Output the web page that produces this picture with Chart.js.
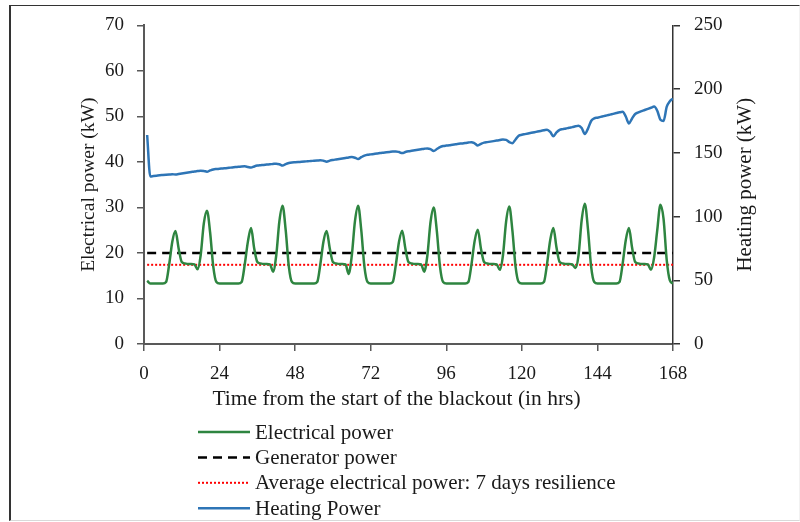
<!DOCTYPE html>
<html>
<head>
<meta charset="utf-8">
<script src="https://cdn.jsdelivr.net/npm/chart.js@4/dist/chart.umd.min.js"></script>
<style>
  body { margin: 0; background: #fff; }
  #frame { position: absolute; left: 9px; top: 5px; width: 788px; height: 514px;
           border-left: 2px solid #333; border-top: 1px solid #333;
           border-bottom: 1px solid #d9d9d9; border-right: 1px solid #f2f2f2; }
  #wrap { position: absolute; left: 0; top: 0; width: 800px; height: 522px; }
</style>
</head>
<body>
<div id="frame"></div>
<div id="wrap"><canvas id="myChart"></canvas></div>
<script>

// hours 1..168 after the blackout
var hours = [];
for (var h = 1; h <= 168; h++) hours.push(h);

var xTicks = [0, 24, 48, 72, 96, 120, 144, 168];

// electrical load (kW), read hour by hour off the figure
var electricalPower = [
  13.9,13.3,13.3,13.3,13.3,13.3,13.6,17.5,22.5,24.8,21.0,18.0,17.7,17.6,17.6,17.5,16.4,19.5,26.5,29.3,24.5,17.0,13.6,
  13.3,13.3,13.3,13.3,13.3,13.3,13.3,13.6,17.5,22.5,25.5,21.0,18.0,17.7,17.6,17.6,17.5,15.9,19.5,27.0,30.4,25.0,17.0,13.6,
  13.3,13.3,13.3,13.3,13.3,13.3,13.3,13.6,17.5,22.5,24.8,21.0,18.0,17.7,17.6,17.6,17.5,15.4,19.5,27.0,30.4,25.0,17.0,13.6,
  13.3,13.3,13.3,13.3,13.3,13.3,13.3,13.6,17.5,22.5,24.9,21.0,18.0,17.7,17.6,17.6,17.5,15.9,19.5,26.8,30.0,24.8,17.0,13.6,
  13.3,13.3,13.3,13.3,13.3,13.3,13.3,13.6,17.5,22.6,25.1,21.0,18.0,17.7,17.6,17.6,17.5,16.3,19.5,26.9,30.2,24.9,17.0,13.6,
  13.3,13.3,13.3,13.3,13.3,13.3,13.3,13.6,17.6,22.8,25.5,21.2,18.0,17.7,17.6,17.6,17.5,16.7,19.5,27.2,30.8,25.2,17.0,13.6,
  13.3,13.3,13.3,13.3,13.3,13.3,13.3,13.6,17.6,22.8,25.5,21.2,18.0,17.7,17.6,17.6,17.5,16.3,19.0,25.0,30.6,27.5,18.5,14.0,13.3
];

// heating load (kW), right axis
var heatingPower = [
  164.0,131.5,131.8,132.1,132.4,132.6,132.8,133.0,133.2,133.0,133.4,133.8,134.2,134.6,135.0,135.4,135.7,136.0,135.8,135.2,136.2,137.0,137.3,
  137.5,137.8,138.0,138.3,138.5,138.8,139.0,139.3,139.4,138.9,138.4,139.3,140.0,140.3,140.5,140.8,141.0,141.3,141.5,141.0,140.0,141.2,142.0,142.4,
  142.6,142.8,143.0,143.2,143.4,143.6,143.8,144.0,144.2,143.8,143.1,143.9,144.4,144.8,145.2,145.6,146.0,146.4,146.7,146.2,145.2,146.6,147.8,148.5,
  148.8,149.1,149.4,149.8,150.1,150.4,150.7,151.0,151.1,150.6,149.8,150.6,151.2,151.6,152.0,152.4,152.8,153.2,153.5,152.9,151.4,153.0,154.5,155.3,
  155.7,156.0,156.4,156.7,157.1,157.4,157.8,158.1,158.4,157.5,155.8,157.0,158.0,158.4,158.8,159.2,159.6,160.0,160.5,160.2,158.4,157.6,160.5,163.5,
  164.2,164.7,165.2,165.7,166.2,166.7,167.2,167.7,168.2,166.5,163.0,166.0,168.0,168.6,169.1,169.7,170.2,170.8,171.3,169.5,164.8,169.0,175.0,177.0,
  177.6,178.2,178.8,179.4,180.0,180.6,181.2,181.8,182.2,178.5,173.1,177.0,180.5,181.7,182.7,183.6,184.5,185.4,186.3,183.0,176.0,175.0,186.0,190.5,192.5
];

var generatorPower = 20;
var averagePower = 17.4;

var leftTitle = 'Electrical power (kW)';
var rightTitle = 'Heating power (kW)';
var xTitle = 'Time from the start of the blackout (in hrs)';

var textColor = '#1a1a1a';
var axisColor = '#595959';
var fontFamily = "'Liberation Serif', 'Times New Roman', serif";

// the x title sits a bit left of centre, the right title reads
// bottom-to-top and the legend is one item per row, so all drawn here
var extraText = {
  id: 'extraText',
  afterDraw: function(chart) {
    var ctx = chart.ctx;
    var area = chart.chartArea;
    ctx.save();
    ctx.fillStyle = textColor;
    ctx.textBaseline = 'middle';
    ctx.font = '21px ' + fontFamily;

    ctx.textAlign = 'center';
    ctx.save();
    ctx.font = '21.5px ' + fontFamily;
    ctx.fillText(xTitle, (area.left + area.right) / 2 - 12, area.bottom + 55);
    ctx.restore();

    ctx.save();
    ctx.translate(area.right + 72, (area.top + area.bottom) / 2);
    ctx.rotate(-Math.PI / 2);
    ctx.fillText(rightTitle, 0, 0);
    ctx.restore();

    ctx.textAlign = 'left';
    chart.data.datasets.forEach(function(ds, i) {
      var y = area.bottom + 88 + i * 25.4;
      ctx.save();
      ctx.strokeStyle = ds.borderColor;
      ctx.lineWidth = ds.borderWidth;
      ctx.setLineDash(ds.borderDash || []);
      ctx.beginPath();
      ctx.moveTo(198, y);
      ctx.lineTo(250, y);
      ctx.stroke();
      ctx.restore();
      ctx.fillText(ds.label, 255, y + 1);
    });
    ctx.restore();
  }
};

function showGraph() {
  var ctx = document.getElementById('myChart').getContext('2d');
  Chart.defaults.font.family = fontFamily;
  Chart.defaults.font.size = 19;
  Chart.defaults.color = textColor;

  var first = hours[0], last = hours[hours.length - 1];

  new Chart(ctx, {
    type: 'line',
    data: {
      labels: hours,
      datasets: [{
        label: 'Electrical power',
        data: electricalPower,
        borderColor: '#2E8540',
        borderWidth: 2.5,
        yAxisID: 'y',
        cubicInterpolationMode: 'monotone'
      }, {
        label: 'Generator power',
        data: [{x: first, y: generatorPower}, {x: last, y: generatorPower}],
        borderColor: '#000000',
        borderWidth: 2.5,
        borderDash: [9, 6],
        yAxisID: 'y'
      }, {
        label: 'Average electrical power: 7 days resilience',
        data: [{x: first, y: averagePower}, {x: last, y: averagePower}],
        borderColor: '#FF0000',
        borderWidth: 2,
        borderDash: [2, 2],
        yAxisID: 'y'
      }, {
        label: 'Heating Power',
        data: heatingPower,
        borderColor: '#2E75B6',
        borderWidth: 2.5,
        yAxisID: 'y1',
        cubicInterpolationMode: 'monotone'
      }]
    },
    options: {
      responsive: true,
      maintainAspectRatio: false,
      animation: false,
      layout: { padding: { left: 66, right: 30, top: 22, bottom: 108 } },
      elements: { point: { radius: 0 } },
      plugins: { legend: { display: false }, tooltip: { enabled: false } },
      scales: {
        x: {
          type: 'linear',
          min: 0, max: 168,
          afterBuildTicks: function(s) { s.ticks = xTicks.map(function(v) { return {value: v}; }); },
          ticks: { padding: 12 },
          grid: { drawOnChartArea: false, tickLength: 7, tickColor: axisColor, lineWidth: 1.5 },
          border: { color: axisColor, width: 2 },
          afterFit: function(s) { s.height = 70; }
        },
        y: {
          position: 'left',
          min: 0, max: 70,
          ticks: { stepSize: 10, padding: 13 },
          grid: { drawOnChartArea: false, tickLength: 7, tickColor: axisColor, lineWidth: 1.5 },
          border: { color: axisColor, width: 2 },
          title: { display: true, text: leftTitle, font: { size: 19.5 }, padding: { top: 11, bottom: 0 } },
          afterFit: function(s) { s.width = 78; }
        },
        y1: {
          position: 'right',
          min: 0, max: 250,
          ticks: { stepSize: 50, padding: 14 },
          grid: { drawOnChartArea: false, tickLength: 7, tickColor: '#333', lineWidth: 1.5 },
          border: { color: '#333', width: 1.5 },
          afterFit: function(s) { s.width = 97; }
        }
      }
    },
    plugins: [extraText]
  });
}

showGraph();
</script>
</body>
</html>
